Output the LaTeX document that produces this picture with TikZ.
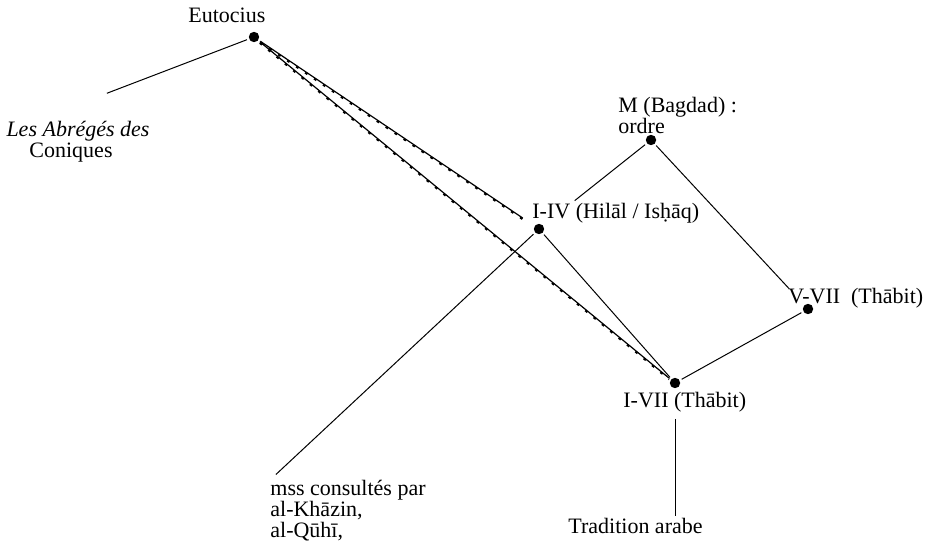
\documentclass[tikz,border=0pt]{standalone}
\usepackage{fontspec}
\setmainfont{Liberation Serif}
\usetikzlibrary{positioning}
\tikzset{
    ms-dot/.style = {circle, fill=black, inner sep=0pt, minimum size=5.2pt},
    ms-label/.style = {inner sep=0pt, font=\fontsize{11}{10.5}\selectfont, align=left},
    copy-line/.style = {draw=black, line width=0.5pt, shorten <=1pt, shorten >=1pt},
    hatched-line/.style = {copy-line, line width=0.6pt, postaction={draw, line width=1pt, dash pattern=on 1.4pt off 4pt, transform canvas={yshift=-0.6pt}}},
}

\begin{document}
\begin{tikzpicture}[x=0.5pt, y=-0.5pt]
\useasboundingbox (0,0) rectangle (937,551);
% witnesses
\node[ms-dot] (eutocius) at (254,37) {};
\node[ms-dot] (hilal) at (539,229) {};
\node[ms-dot] (bagdad) at (651,140) {};
\node[ms-dot] (thabit57) at (808,309) {};
\node[ms-dot] (thabit17) at (675,383) {};
% labels
\node[ms-label, anchor=north west] (eutocius-label) at (188,8) {Eutocius};
\node[ms-label, anchor=north, align=center] (abreges) at (78,121) {\textit{Les Abrégés des}\\Coniques\hspace*{7pt}};
\node[ms-label, anchor=north west] (bagdad-label) at (618,97) {M (Bagdad) :\\ordre};
\node[ms-label, anchor=north west] (hilal-label) at (532,203) {I-IV (Hilāl / Isḥāq)};
\node[ms-label, anchor=north west] (thabit57-label) at (788,288) {V-VII~ (Thābit)};
\node[ms-label, anchor=north west] (thabit17-label) at (623,392) {I-VII (Thābit)};
\node[ms-label, anchor=north west] (tradition) at (568,518) {Tradition arabe};
\node[ms-label, anchor=north west] (mss) at (270,480) {mss consultés par\\al-Khāzin,\\al-Qūhī,};
\coordinate (abreges-end) at (105,94);
% filiation
\draw[copy-line] (eutocius) -- (abreges-end);
\draw[hatched-line, shorten >=7pt] (eutocius) -- (hilal);
\draw[hatched-line] (eutocius) -- (thabit17);
\draw[copy-line, shorten <=20pt] (hilal) -- (bagdad);
\draw[copy-line, shorten >=11pt] (bagdad) -- (thabit57);
\draw[copy-line] (thabit57) -- (thabit17);
\draw[copy-line] (hilal) -- (thabit17);
\draw[copy-line, shorten >=4pt] (hilal) -- (mss.north west);
\draw[copy-line, shorten <=3pt] (thabit17-label.south -| thabit17) -- (tradition.north -| thabit17);
\end{tikzpicture}
\end{document}
